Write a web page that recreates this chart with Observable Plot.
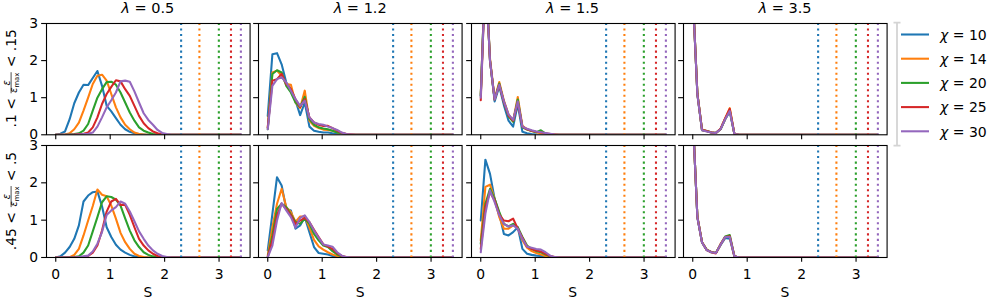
<!DOCTYPE html>
<html><head><meta charset="utf-8">
<script src="https://cdn.jsdelivr.net/npm/d3@7"></script>
<script src="https://cdn.jsdelivr.net/npm/@observablehq/plot@0.6"></script>
<style>
html,body{margin:0;padding:0;background:white;}
#chart{position:relative;width:1000px;height:300px;overflow:hidden;font-family:"DejaVu Sans";}
#chart svg{position:absolute;}
</style></head><body><div id="chart"></div>
<script>
// ---------- data ----------
const S = [0,0.085,0.17,0.255,0.34,0.425,0.51,0.595,0.68,0.765, 0.85,0.935,1.02,1.105,1.19,1.275,1.36,1.445,1.53,1.615, 1.7,1.785,1.87,1.955,2.04,2.125,2.21,2.295,2.38,2.465, 2.55,2.635,2.72,2.805,2.89,2.975,3.06,3.145,3.23,3.315, 3.4];
const chi = [10,14,20,25,30];
const colors = ["#1f77b4","#ff7f0e","#2ca02c","#d62728","#9467bd"];
const bounds = [2.303,2.639,2.996,3.219,3.401];
const lambdas = ["0.5","1.2","1.5","3.5"];
const rowLabels = [[".1",".15"],[".45",".5"]];
const xTicks = [0,1,2,3];
const yTicks = [0,1,2,3];

// rows: .1<e<.15 (top), .45<e<.5 (bottom); each panel: one series per chi
const top_l05 = [
 [0,0.03,0.09,0.42,0.85,1.14,1.35,1.34,1.53,1.72, 1.32,0.78,0.63,0.45,0.27,0.15,0.08,0.04,0.02,0.01, 0,0,0,0,0,0,0,0,0,0, 0,0,0,0,0,0,0,0,0,0, 0],
 [0,0,0.01,0.04,0.15,0.33,0.65,1.0,1.37,1.59, 1.62,1.46,1.1,0.74,0.47,0.27,0.15,0.06,0.02,0.01, 0,0,0,0,0,0,0,0,0,0, 0,0,0,0,0,0,0,0,0,0, 0],
 [0,0,0,0.01,0.02,0.04,0.11,0.29,0.65,1.0, 1.23,1.42,1.43,1.35,1.14,0.87,0.6,0.38,0.2,0.11, 0.06,0.02,0,0,0,0,0,0,0,0, 0,0,0,0,0,0,0,0,0,0, 0],
 [0,0,0,0,0.01,0.02,0.03,0.06,0.2,0.47, 0.83,1.1,1.29,1.47,1.44,1.23,1.05,0.78,0.51,0.31, 0.18,0.09,0.04,0.01,0,0,0,0,0,0, 0,0,0,0,0,0,0,0,0,0, 0],
 [0,0,0,0,0,0.01,0.02,0.03,0.06,0.22, 0.47,0.74,0.93,1.14,1.44,1.46,1.43,1.17,0.87,0.58, 0.4,0.27,0.13,0.05,0.02,0,0,0,0,0, 0,0,0,0,0,0,0,0,0,0, 0]
];
const top_l12 = [
 [0.51,2.17,2.2,1.9,1.41,1.23,0.92,0.53,0.87,0.22, 0.11,0.08,0.06,0.06,0.04,0.03,0.02,0.01,0,0, 0,0,0,0,0,0,0,0,0,0, 0,0,0,0,0,0,0,0,0,0, 0],
 [0.2,1.68,1.73,1.59,1.37,1.35,0.87,0.72,1.19,0.38, 0.24,0.18,0.14,0.13,0.11,0.07,0.04,0.02,0.01,0, 0,0,0,0,0,0,0,0,0,0, 0,0,0,0,0,0,0,0,0,0, 0],
 [0.15,1.64,1.74,1.68,1.32,1.14,0.87,0.75,1.02,0.42, 0.27,0.2,0.17,0.15,0.11,0.06,0.04,0.01,0,0, 0,0,0,0,0,0,0,0,0,0, 0,0,0,0,0,0,0,0,0,0, 0],
 [0.2,1.46,1.5,1.64,1.37,1.23,0.96,0.75,0.96,0.47, 0.33,0.27,0.24,0.24,0.18,0.11,0.05,0.02,0.01,0, 0,0,0,0,0,0,0,0,0,0, 0,0,0,0,0,0,0,0,0,0, 0],
 [0.15,1.32,1.5,1.55,1.41,1.19,0.96,0.78,0.92,0.47, 0.33,0.29,0.27,0.22,0.18,0.13,0.06,0.02,0.01,0, 0,0,0,0,0,0,0,0,0,0, 0,0,0,0,0,0,0,0,0,0, 0]
];
const top_l15 = [
 [1.05,4.6,2.0,0.9,1.3,0.8,0.38,0.22,0.82,0.08, 0.04,0.02,0.01,0,0,0,0,0,0,0, 0,0,0,0,0,0,0,0,0,0, 0,0,0,0,0,0,0,0,0,0, 0],
 [1.1,4.5,2.05,0.97,1.42,0.92,0.55,0.38,1.02,0.24, 0.15,0.1,0.07,0.04,0.02,0.01,0,0,0,0, 0,0,0,0,0,0,0,0,0,0, 0,0,0,0,0,0,0,0,0,0, 0],
 [1.05,4.5,2.0,0.95,1.38,0.88,0.5,0.35,0.95,0.2, 0.14,0.1,0.07,0.12,0.03,0.01,0,0,0,0, 0,0,0,0,0,0,0,0,0,0, 0,0,0,0,0,0,0,0,0,0, 0],
 [0.93,4.4,2.0,0.95,1.35,0.88,0.52,0.38,0.88,0.22, 0.15,0.11,0.08,0.06,0.04,0.02,0.01,0,0,0, 0,0,0,0,0,0,0,0,0,0, 0,0,0,0,0,0,0,0,0,0, 0],
 [1.0,4.4,2.0,0.95,1.35,0.9,0.55,0.4,0.9,0.22, 0.16,0.12,0.09,0.07,0.05,0.03,0.01,0,0,0, 0,0,0,0,0,0,0,0,0,0, 0,0,0,0,0,0,0,0,0,0, 0]
];
const top_l35 = [
 [3.8,1.1,0.13,0.1,0.06,0.05,0.15,0.42,0.62,0.02, 0,0,0,0,0,0,0,0,0,0, 0,0,0,0,0,0,0,0,0,0, 0,0,0,0,0,0,0,0,0,0, 0],
 [3.8,1.12,0.14,0.1,0.07,0.05,0.16,0.44,0.72,0.02, 0,0,0,0,0,0,0,0,0,0, 0,0,0,0,0,0,0,0,0,0, 0,0,0,0,0,0,0,0,0,0, 0],
 [3.8,1.1,0.12,0.1,0.06,0.05,0.15,0.42,0.66,0.02, 0,0,0,0,0,0,0,0,0,0, 0,0,0,0,0,0,0,0,0,0, 0,0,0,0,0,0,0,0,0,0, 0],
 [3.8,1.1,0.13,0.1,0.06,0.05,0.16,0.44,0.7,0.02, 0,0,0,0,0,0,0,0,0,0, 0,0,0,0,0,0,0,0,0,0, 0,0,0,0,0,0,0,0,0,0, 0],
 [3.8,1.08,0.12,0.09,0.06,0.05,0.15,0.42,0.64,0.02, 0,0,0,0,0,0,0,0,0,0, 0,0,0,0,0,0,0,0,0,0, 0,0,0,0,0,0,0,0,0,0, 0]
];
const bot_l05 = [
 [0,0.03,0.13,0.28,0.5,0.86,1.5,1.66,1.75,1.77, 1.37,0.81,0.55,0.34,0.21,0.13,0.07,0.03,0.01,0, 0,0,0,0,0,0,0,0,0,0, 0,0,0,0,0,0,0,0,0,0, 0],
 [0,0,0,0.01,0.07,0.23,0.59,0.99,1.38,1.82, 1.68,1.64,1.39,1.04,0.66,0.41,0.23,0.1,0.04,0.01, 0,0,0,0,0,0,0,0,0,0, 0,0,0,0,0,0,0,0,0,0, 0],
 [0,0,0,0,0.01,0.03,0.13,0.32,0.7,1.08, 1.48,1.64,1.62,1.55,1.39,1.05,0.72,0.46,0.28,0.14, 0.07,0.03,0,0,0,0,0,0,0,0, 0,0,0,0,0,0,0,0,0,0, 0],
 [0,0,0,0,0,0.01,0.02,0.04,0.13,0.32, 0.72,1.23,1.5,1.57,1.41,1.41,1.14,0.81,0.5,0.32, 0.19,0.1,0.04,0.01,0,0,0,0,0,0, 0,0,0,0,0,0,0,0,0,0, 0],
 [0,0,0,0,0,0.01,0.03,0.05,0.16,0.37, 0.68,1.14,1.26,1.35,1.5,1.44,1.23,0.97,0.7,0.5, 0.32,0.19,0.1,0.04,0.01,0,0,0,0,0, 0,0,0,0,0,0,0,0,0,0, 0]
];
const bot_l12 = [
 [0.19,1.17,2.15,1.93,1.3,1.26,0.77,0.86,1.08,0.68, 0.28,0.12,0.1,0.08,0.04,0.02,0.01,0,0,0, 0,0,0,0,0,0,0,0,0,0, 0,0,0,0,0,0,0,0,0,0, 0],
 [0.05,0.81,1.44,1.84,1.35,1.22,0.95,1.1,1.1,0.8, 0.47,0.3,0.21,0.14,0.08,0.04,0.01,0,0,0, 0,0,0,0,0,0,0,0,0,0, 0,0,0,0,0,0,0,0,0,0, 0],
 [0.01,0.59,1.3,1.44,1.35,1.15,0.95,0.9,1.04,0.9, 0.63,0.46,0.32,0.28,0.17,0.08,0.03,0,0,0, 0,0,0,0,0,0,0,0,0,0, 0,0,0,0,0,0,0,0,0,0, 0],
 [0.01,0.46,1.13,1.44,1.3,1.13,0.9,0.99,1.06,0.95, 0.74,0.55,0.35,0.29,0.23,0.12,0.04,0.01,0,0, 0,0,0,0,0,0,0,0,0,0, 0,0,0,0,0,0,0,0,0,0, 0],
 [0.01,0.32,0.99,1.46,1.26,1.08,0.8,1.06,1.13,0.95, 0.72,0.53,0.35,0.32,0.29,0.14,0.05,0.01,0,0, 0,0,0,0,0,0,0,0,0,0, 0,0,0,0,0,0,0,0,0,0, 0]
];
const bot_l15 = [
 [0.99,2.62,2.24,1.57,1.17,0.63,0.59,0.68,0.81,0.23, 0.1,0.07,0.05,0.04,0.03,0.01,0,0,0,0, 0,0,0,0,0,0,0,0,0,0, 0,0,0,0,0,0,0,0,0,0, 0],
 [0.46,1.89,1.95,1.57,1.08,0.77,0.77,0.86,0.8,0.46, 0.26,0.17,0.12,0.08,0.04,0.01,0,0,0,0, 0,0,0,0,0,0,0,0,0,0, 0,0,0,0,0,0,0,0,0,0, 0],
 [0.37,1.44,1.84,1.57,1.22,0.9,0.83,0.9,0.81,0.55, 0.32,0.23,0.17,0.14,0.08,0.03,0,0,0,0, 0,0,0,0,0,0,0,0,0,0, 0,0,0,0,0,0,0,0,0,0, 0],
 [0.23,1.35,1.75,1.53,1.15,0.99,0.97,1.04,0.77,0.53, 0.29,0.23,0.19,0.16,0.1,0.04,0.01,0,0,0, 0,0,0,0,0,0,0,0,0,0, 0,0,0,0,0,0,0,0,0,0, 0],
 [0.14,1.17,1.8,1.48,1.13,0.9,0.83,0.86,0.77,0.5, 0.29,0.26,0.23,0.21,0.14,0.05,0.01,0,0,0, 0,0,0,0,0,0,0,0,0,0, 0,0,0,0,0,0,0,0,0,0, 0]
];
const bot_l35 = [
 [3.8,1.08,0.4,0.2,0.15,0.12,0.33,0.52,0.5,0.03, 0,0,0,0,0,0,0,0,0,0, 0,0,0,0,0,0,0,0,0,0, 0,0,0,0,0,0,0,0,0,0, 0],
 [3.8,1.1,0.41,0.21,0.15,0.12,0.35,0.55,0.55,0.03, 0,0,0,0,0,0,0,0,0,0, 0,0,0,0,0,0,0,0,0,0, 0,0,0,0,0,0,0,0,0,0, 0],
 [3.8,1.08,0.41,0.21,0.14,0.12,0.35,0.56,0.6,0.03, 0,0,0,0,0,0,0,0,0,0, 0,0,0,0,0,0,0,0,0,0, 0,0,0,0,0,0,0,0,0,0, 0],
 [3.8,1.08,0.41,0.2,0.14,0.11,0.35,0.55,0.57,0.03, 0,0,0,0,0,0,0,0,0,0, 0,0,0,0,0,0,0,0,0,0, 0,0,0,0,0,0,0,0,0,0, 0],
 [3.8,1.07,0.4,0.2,0.14,0.12,0.34,0.55,0.55,0.03, 0,0,0,0,0,0,0,0,0,0, 0,0,0,0,0,0,0,0,0,0, 0,0,0,0,0,0,0,0,0,0, 0]
];
const panels = [[top_l05, top_l12, top_l15, top_l35],[bot_l05, bot_l12, bot_l15, bot_l35]];

// ---------- layout ----------
const colLeft = [46, 258.4, 470.8, 683.2];
const panelW = 203.6;
const rowTop = [22.7, 145];
const panelH = [111.3, 112];
const ML = 50, MR = 8, MT = 26, MB = 50;
const chart = document.getElementById("chart");

const boundRows = chi.map((c, i) => ({chi: c, S: bounds[i]}));

panels.forEach((row, r) => row.forEach((series, c) => {
  series.forEach((s, k) => { if (s.length !== S.length) throw new Error(`length r${r} c${c} k${k} = ${s.length}`); });
  const rows = [];
  series.forEach((s, k) => s.forEach((v, i) => rows.push({S: S[i], v, chi: chi[k]})));
  const showX = r === 1, showY = c === 0;
  const el = Plot.plot({
    width: panelW + ML + MR,
    height: panelH[r] + MT + MB,
    marginLeft: ML, marginRight: MR, marginTop: MT, marginBottom: MB,
    x: {domain: [-0.17, 3.57], label: null},
    y: {domain: [0, 3], label: null},
    color: {type: "ordinal", domain: chi, range: colors},
    style: {background: "transparent", overflow: "visible", fontFamily: "DejaVu Sans", fontSize: "13.9px", color: "black"},
    marks: [
      Plot.line(rows, {x: "S", y: "v", z: "chi", stroke: "chi", strokeWidth: 2.08, clip: true}),
      Plot.ruleX(boundRows, {x: "S", stroke: "chi", strokeWidth: 2.08, strokeDasharray: "2.08,3.44"}),
      Plot.axisX({ticks: xTicks, tickSize: 4.86, tickPadding: 6.5, strokeWidth: 1.1, label: null,
                  tickFormat: showX ? (d => String(d)) : (() => "")}),
      Plot.axisY({ticks: yTicks, tickSize: 4.86, tickPadding: 3.5, strokeWidth: 1.1, label: null,
                  tickFormat: showY ? (d => String(d)) : (() => "")}),
      Plot.frame({stroke: "black", strokeWidth: 1.1})
    ]
  });
  el.style.position = "absolute";
  el.style.left = (colLeft[c] - ML) + "px";
  el.style.top = (rowTop[r] - MT) + "px";
  chart.appendChild(el);
}));

// ---------- overlay text ----------
const ov = d3.select(chart).append("svg")
  .attr("width", 1000).attr("height", 300)
  .style("left", "0px").style("top", "0px")
  .attr("font-family", "DejaVu Sans").attr("fill", "black");

// titles
lambdas.forEach((l, c) => {
  const t = ov.append("text").attr("x", colLeft[c] + panelW / 2).attr("y", 13.4)
    .attr("text-anchor", "middle").attr("font-size", 14.5);
  t.append("tspan").attr("font-style", "italic").text("λ");
  t.append("tspan").text("\u00a0=\u00a0" + l);
});
// x labels
colLeft.forEach((x0) => {
  ov.append("text").attr("x", x0 + panelW / 2).attr("y", 296.5)
    .attr("text-anchor", "middle").attr("font-size", 13.9).text("S");
});
// y labels with fraction
function yLabel(cx, cy, lo, hi) {
  const g = ov.append("g").attr("transform", `translate(${cx},${cy}) rotate(-90)`);
  const fs = 13.9, fs2 = 9.7, fs3 = 6.8;
  const t1 = g.append("text").attr("font-size", fs).text(lo + "\u00a0<\u00a0");
  const num = g.append("text").attr("font-size", fs2).attr("font-style", "italic").text("ε");
  const den = g.append("text").attr("font-size", fs2).attr("font-style", "italic");
  den.append("tspan").text("ε");
  den.append("tspan").attr("font-size", fs3).attr("font-style", "normal").attr("dy", 1.3).text("max");
  const t2 = g.append("text").attr("font-size", fs).text("\u00a0<\u00a0" + hi);
  const w1 = t1.node().getComputedTextLength();
  const wn = num.node().getComputedTextLength();
  const wd = den.node().getComputedTextLength();
  const w2 = t2.node().getComputedTextLength();
  const fw = Math.max(wn, wd) + 2;
  let x = -(w1 + fw + w2) / 2;
  t1.attr("x", x).attr("y", 0);
  x += w1;
  g.append("line").attr("x1", x + 0.5).attr("x2", x + fw - 0.5)
    .attr("y1", -4.4).attr("y2", -4.4).attr("stroke", "black").attr("stroke-width", 0.7);
  num.attr("x", x + fw / 2).attr("text-anchor", "middle").attr("y", -5.8);
  den.attr("x", x + fw / 2).attr("text-anchor", "middle").attr("y", 1.8);
  x += fw;
  t2.attr("x", x).attr("y", 0);
}
rowLabels.forEach(([lo, hi], r) => yLabel(15.5, rowTop[r] + panelH[r] / 2, lo, hi));

// legend
const lg = ov.append("g");
lg.append("path").attr("d", "M893.5,22.7H900.5M897,22.7V145.7M893.5,145.7H900.5")
  .attr("stroke", "#d4d4d4").attr("stroke-width", 1.8).attr("fill", "none");
chi.forEach((c, k) => {
  const y = 34.5 + k * 24.2;
  lg.append("line").attr("x1", 901).attr("x2", 929).attr("y1", y).attr("y2", y)
    .attr("stroke", colors[k]).attr("stroke-width", 2.08);
  const t = lg.append("text").attr("x", 940).attr("y", y + 5.2).attr("font-size", 14);
  t.append("tspan").attr("font-style", "italic").text("χ");
  t.append("tspan").text("\u00a0=\u00a0" + c);
});
</script></body></html>
